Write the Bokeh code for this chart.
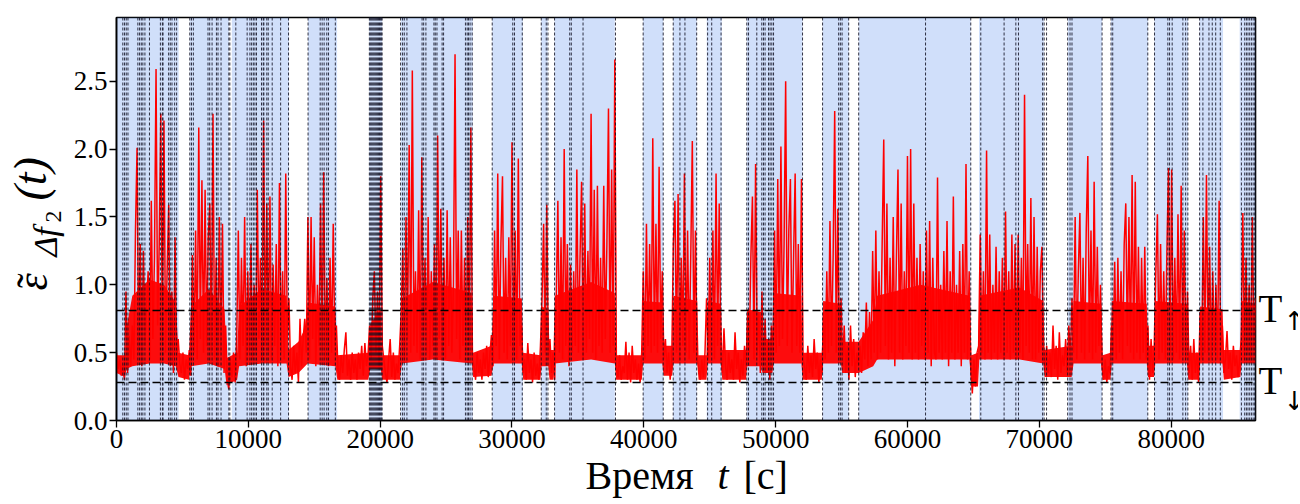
import numpy as np
from bokeh.plotting import figure
from bokeh.layouts import row, column
from bokeh.models import (Range1d, FixedTicker, PrintfTickFormatter, BoxAnnotation,
                          Span, Label, ColumnDataSource)
from bokeh.embed import file_html
from bokeh.resources import INLINE

# ---------------- data ----------------
sample_step = 120  # seconds between samples of the read-off signal
eps = [
    0.50, 0.38, 0.45, 0.33, 0.42, 0.30, 0.95, 0.35, 0.62, 0.40,
    0.70, 0.45, 1.40, 2.01, 0.50, 1.30, 0.40, 1.25, 0.55, 0.85,
    1.10, 0.45, 1.62, 0.60, 1.20, 2.59, 0.70, 1.30, 2.26, 0.55,
    2.21, 0.50, 1.10, 1.59, 0.40, 0.95, 0.35, 1.35, 0.45, 0.60,
    0.42, 0.35, 0.50, 0.30, 0.45, 0.38, 0.52, 0.33, 1.22, 0.50,
    1.40, 0.45, 2.16, 0.60, 1.77, 0.50, 1.70, 0.55, 1.35, 1.60,
    0.50, 2.26, 0.45, 1.20, 0.40, 1.50, 0.50, 1.45, 0.35, 0.70,
    0.30, 0.23, 0.45, 0.32, 0.50, 0.28, 0.60, 1.40, 0.45, 1.20,
    0.55, 1.50, 0.40, 1.10, 0.50, 1.30, 0.45, 1.00, 0.50, 1.70,
    0.60, 1.20, 0.45, 2.21, 0.55, 1.60, 0.50, 1.65, 0.45, 1.15,
    0.55, 1.30, 0.40, 1.75, 0.50, 1.10, 0.45, 1.82, 0.60, 0.90,
    0.40, 0.30, 0.55, 0.35, 0.50, 0.28, 0.75, 0.40, 0.60, 0.75,
    0.50, 1.50, 0.45, 1.50, 0.60, 1.35, 0.40, 1.00, 0.55, 1.60,
    0.50, 1.83, 0.45, 1.05, 0.40, 1.20, 0.50, 1.45, 0.55, 0.70,
    0.38, 0.30, 0.48, 0.35, 0.52, 0.65, 0.33, 0.45, 0.30, 0.50,
    0.35, 0.45, 0.30, 0.50, 0.38, 0.55, 0.33, 0.57, 0.40, 0.48,
    0.70, 0.45, 0.90, 1.10, 0.50, 0.95, 0.40, 1.80, 0.55, 0.45,
    0.35, 0.28, 0.45, 0.60, 0.32, 0.50, 0.30, 0.42, 0.35, 0.55,
    0.80, 1.27, 0.45, 1.50, 0.60, 2.03, 0.50, 2.58, 0.55, 1.10,
    0.50, 1.55, 0.45, 1.94, 0.60, 1.20, 0.50, 1.50, 0.45, 1.10,
    0.55, 1.30, 0.45, 2.10, 0.60, 1.56, 0.50, 1.20, 0.45, 1.55,
    0.55, 1.35, 0.50, 1.00, 2.70, 0.60, 1.40, 0.45, 1.40, 0.55,
    1.20, 0.50, 1.50, 0.55, 2.16, 0.45, 0.40, 0.30, 0.50, 0.35,
    0.45, 0.30, 0.50, 0.38, 0.55, 0.32, 0.48, 0.63, 0.40, 1.40,
    0.55, 1.82, 0.45, 1.30, 1.80, 0.50, 1.20, 0.45, 1.35, 0.55,
    2.05, 0.50, 1.40, 0.45, 1.93, 0.55, 0.70, 0.35, 0.45, 0.30,
    0.57, 0.35, 0.45, 0.28, 0.50, 0.33, 0.42, 0.30, 0.55, 0.90,
    1.45, 0.50, 1.59, 0.45, 0.60, 0.35, 0.50, 0.30, 0.90, 1.62,
    0.50, 1.35, 0.45, 2.00, 0.55, 1.30, 0.40, 1.15, 0.50, 1.10,
    0.55, 1.85, 0.50, 1.20, 1.76, 0.45, 1.60, 0.50, 1.25, 0.60,
    2.26, 0.50, 1.70, 0.45, 1.73, 0.55, 1.20, 0.50, 1.73, 0.60,
    1.30, 2.30, 0.50, 1.85, 0.55, 2.66, 0.40, 0.32, 0.48, 0.30,
    0.40, 0.35, 0.58, 0.30, 0.50, 0.28, 0.55, 0.35, 0.45, 0.30,
    0.42, 0.28, 0.50, 1.10, 0.45, 1.45, 0.55, 1.30, 0.50, 2.08,
    0.55, 1.45, 0.50, 1.87, 0.60, 1.10, 0.45, 0.60, 0.35, 0.50,
    0.30, 0.45, 1.30, 1.62, 0.50, 1.67, 0.45, 1.20, 0.55, 1.82,
    0.50, 1.40, 0.45, 1.20, 2.06, 0.50, 1.40, 0.45, 0.40, 0.30,
    0.45, 0.32, 0.50, 0.90, 0.45, 1.20, 0.50, 1.40, 0.45, 1.82,
    0.55, 1.60, 0.50, 0.35, 0.68, 0.40, 0.30, 0.50, 0.35, 0.45,
    0.30, 0.65, 0.38, 0.50, 0.28, 0.45, 0.33, 0.55, 0.40, 0.80,
    0.50, 1.20, 1.65, 0.45, 1.89, 0.50, 0.80, 0.35, 0.95, 0.40,
    0.75, 0.35, 0.60, 0.30, 0.70, 0.45, 1.40, 0.50, 1.78, 0.55,
    2.02, 0.60, 1.30, 2.50, 0.55, 1.40, 1.78, 0.50, 1.20, 1.82,
    0.55, 1.30, 0.50, 1.78, 0.45, 0.40, 0.30, 0.55, 0.35, 0.48,
    0.32, 0.60, 0.38, 0.50, 0.28, 0.45, 0.35, 0.80, 0.45, 1.10,
    0.50, 1.47, 0.55, 1.20, 2.28, 0.50, 1.56, 0.45, 0.90, 0.40,
    0.70, 0.35, 0.55, 0.30, 0.70, 0.40, 0.60, 0.32, 0.50, 0.40,
    0.55, 0.35, 0.65, 0.45, 0.87, 0.40, 0.80, 0.45, 1.25, 0.50,
    1.40, 0.45, 1.10, 0.50, 1.30, 2.07, 0.55, 1.60, 0.45, 1.20,
    0.50, 1.50, 0.40, 1.20, 1.85, 0.50, 1.60, 0.45, 1.10, 0.55,
    1.95, 0.50, 2.00, 0.45, 1.60, 0.50, 1.20, 0.45, 1.30, 0.55,
    1.10, 0.45, 1.40, 0.50, 1.47, 0.40, 1.20, 0.50, 0.45, 1.79,
    0.50, 1.00, 0.45, 1.25, 0.50, 1.47, 0.40, 1.10, 0.50, 1.65,
    0.45, 1.00, 0.50, 1.25, 0.40, 1.30, 0.50, 1.89, 0.45, 1.10,
    0.40, 0.20, 0.45, 0.25, 0.50, 0.55, 1.37, 0.50, 1.10, 0.45,
    1.99, 0.50, 1.37, 0.45, 1.00, 0.50, 1.28, 0.45, 1.10, 0.50,
    1.20, 0.45, 1.54, 0.50, 1.10, 0.45, 1.37, 0.50, 1.30, 0.45,
    1.37, 0.50, 1.20, 0.45, 2.40, 0.55, 1.30, 0.50, 1.64, 0.45,
    1.50, 0.45, 1.28, 0.50, 1.10, 1.28, 0.45, 0.40, 0.55, 0.35,
    0.50, 0.32, 0.70, 0.38, 0.55, 0.30, 0.65, 0.35, 0.48, 0.40,
    0.60, 0.35, 0.70, 0.45, 0.90, 0.50, 1.50, 0.45, 1.10, 1.53,
    0.50, 1.20, 0.45, 1.40, 1.95, 0.50, 1.40, 0.45, 1.76, 0.50,
    1.28, 0.55, 1.00, 0.40, 0.30, 0.45, 0.28, 0.40, 0.35, 0.70,
    0.50, 1.17, 0.45, 1.20, 0.50, 1.10, 0.45, 1.30, 1.60, 0.55,
    1.50, 0.50, 1.81, 0.45, 1.76, 0.50, 1.28, 0.45, 1.20, 0.50,
    1.28, 0.45, 0.70, 0.30, 0.60, 0.35, 0.55, 1.10, 1.52, 0.45,
    1.30, 0.50, 1.10, 0.45, 1.25, 1.86, 0.50, 1.85, 0.45, 1.20,
    0.50, 1.52, 0.45, 1.73, 0.50, 1.40, 0.45, 0.95, 0.35, 0.55,
    0.30, 0.60, 0.35, 0.50, 0.28, 0.80, 0.45, 1.50, 0.50, 1.81,
    0.50, 1.28, 0.45, 1.10, 0.50, 1.00, 0.45, 1.62, 0.50, 0.70,
    0.35, 0.45, 0.66, 0.38, 0.50, 0.30, 0.55, 0.40, 0.48, 0.32,
    0.45, 0.60, 1.53, 0.45, 1.20, 0.50, 1.00, 0.45, 1.50, 0.55,
    0.90,
]
time_s = np.arange(len(eps)) * sample_step

env_t = [0, 650, 750, 1200, 2500, 3600, 4500, 4700, 5500, 5650, 7000, 8200, 8350, 9150,
         9300, 11000, 12900, 13050, 13800, 14300, 14500, 16600, 16750, 19100, 19250,
         20050, 20150, 21500, 21650, 24000, 26950, 27050, 28450, 28600, 30750, 30850,
         32150, 32250, 32750, 32850, 33150, 33250, 36000, 37800, 37900, 39850, 39950,
         41400, 41500, 42150, 42250, 44050, 44150, 44750, 44850, 45850, 45950, 47750,
         47850, 48900, 49000, 49750, 49850, 51950, 52050, 53500, 53600, 54950, 55050,
         56300, 57400, 57700, 61000, 64700, 64850, 65350, 65450, 68500, 70300, 70400,
         72450, 72600, 74700, 74800, 75400, 75500, 78150, 78250, 78700, 78800, 81200,
         81300, 82100, 82200, 83900, 84000, 85250, 85350, 86400]
env_lo = [0.35, 0.32, 0.38, 0.40, 0.42, 0.42, 0.40, 0.32, 0.30, 0.40, 0.42, 0.38, 0.26,
          0.30, 0.40, 0.42, 0.42, 0.32, 0.35, 0.40, 0.42, 0.40, 0.30, 0.30, 0.38, 0.38,
          0.30, 0.30, 0.42, 0.45, 0.42, 0.32, 0.33, 0.42, 0.42, 0.30, 0.30, 0.40, 0.40,
          0.30, 0.30, 0.42, 0.45, 0.42, 0.30, 0.30, 0.42, 0.42, 0.33, 0.33, 0.42, 0.42,
          0.30, 0.30, 0.42, 0.42, 0.30, 0.30, 0.40, 0.40, 0.35, 0.35, 0.42, 0.42, 0.30,
          0.30, 0.42, 0.42, 0.35, 0.35, 0.40, 0.45, 0.45, 0.45, 0.25, 0.25, 0.45, 0.45,
          0.42, 0.32, 0.32, 0.42, 0.42, 0.30, 0.30, 0.42, 0.42, 0.32, 0.32, 0.42, 0.42,
          0.30, 0.30, 0.42, 0.42, 0.30, 0.32, 0.42, 0.42]
env_hi = [0.48, 0.48, 0.68, 0.92, 1.04, 1.00, 0.87, 0.50, 0.48, 0.84, 0.97, 0.82, 0.46,
          0.50, 0.84, 0.97, 0.92, 0.52, 0.58, 0.68, 0.87, 0.84, 0.48, 0.50, 0.71, 0.82,
          0.48, 0.48, 0.90, 1.02, 0.94, 0.50, 0.55, 0.92, 0.90, 0.50, 0.48, 0.84, 0.82,
          0.52, 0.52, 0.92, 1.02, 0.94, 0.48, 0.48, 0.88, 0.87, 0.55, 0.55, 0.92, 0.88,
          0.48, 0.48, 0.88, 0.86, 0.52, 0.52, 0.82, 0.80, 0.60, 0.60, 0.94, 0.92, 0.50,
          0.50, 0.88, 0.86, 0.58, 0.58, 0.74, 0.92, 1.00, 0.92, 0.48, 0.50, 0.92, 0.98,
          0.88, 0.52, 0.55, 0.88, 0.86, 0.48, 0.50, 0.88, 0.86, 0.55, 0.55, 0.88, 0.86,
          0.50, 0.50, 0.84, 0.82, 0.52, 0.52, 0.88, 0.86]

span_starts = [0, 5552, 8746, 14526, 19165, 21575, 28500, 32222, 33234, 39949, 42231,
               44771, 47812, 53562, 56300, 65426, 72171, 75442, 78734, 82157, 85199]
span_ends = [4715, 8518, 13081, 16731, 20153, 27021, 30823, 32702, 37797, 41470, 44011,
             45912, 52041, 55539, 64795, 70347, 74757, 78233, 81274, 83937, 86400]

switch_times = [
    480, 610, 740, 870, 1620, 1750, 1880, 2000, 2155, 2500, 3330, 3480, 3530, 3955, 4080,
    4210, 4410, 4560, 5560, 5690, 5830, 6940, 7070, 7250, 7580, 7700, 7930, 8520, 8600,
    9050, 9910, 10120, 10250, 10380, 10500, 10620, 11000, 11130, 11180, 11400, 11510,
    11810, 12450, 13050,
    14530, 15450, 15600, 15750, 15950, 16080, 16600,
    19180, 19250, 19320, 19390, 19460, 19530, 19600, 19670, 19740, 19810, 19880, 19950,
    20020, 20090, 20150,
    21550, 21700, 21830, 22030, 23180, 23300, 23470, 24080, 24180, 24310, 24700, 24810,
    26470, 26600, 26700, 26820, 26980, 28500,
    30060, 30190, 30780, 32220, 32600, 32730, 33230, 34380, 34500, 35390, 37850, 39950,
    41470, 42230, 42740, 43120, 44010, 44840, 45150, 45860, 47810, 47940, 48570, 48950,
    49080, 49200, 49460, 49580, 49710, 49840, 52040, 53560, 54780, 54910, 55040, 55540,
    56300, 61370, 64800, 65560, 67330, 68220, 68420, 70250, 70370, 70550, 72150, 72330,
    72480, 74760, 75440, 75570, 78230, 78740, 79750, 79880, 80080, 80890, 81100, 81270,
    82160, 82410, 82870, 83120, 83380, 83730, 85330, 85580, 85710, 85830, 85960, 86090,
    86220, 86340,
]

thr_up = 0.81
thr_down = 0.28

x_ticks = [0, 10000, 20000, 30000, 40000, 50000, 60000, 70000, 80000]
y_ticks = [0.0, 0.5, 1.0, 1.5, 2.0, 2.5]

X_MAX = 86400
Y_MAX = 2.97

# ---------------- geometry ----------------
SERIF = "Liberation Serif"
FRAME_W, FRAME_H = 1139, 403
LEFT_W = 68          # y-label panel
MAIN_L, MAIN_R, MAIN_T, MAIN_B = 48, 2, 17, 40
RIGHT_W = 41         # T-label panel
XLAB_H = 42
MAIN_W = MAIN_L + FRAME_W + MAIN_R
MAIN_H = MAIN_T + FRAME_H + MAIN_B
TOTAL_W = LEFT_W + MAIN_W + RIGHT_W
sx = X_MAX / FRAME_W   # seconds per pixel


def blank(width, height, xr, yr):
    f = figure(width=width, height=height, output_backend="svg", toolbar_location=None,
               x_range=xr, y_range=yr, x_axis_location=None, y_axis_location=None,
               min_border=0)
    f.grid.visible = False
    f.outline_line_color = None
    f.background_fill_color = "white"
    f.border_fill_color = "white"
    return f


# ---------------- main figure ----------------
p = figure(width=MAIN_W, height=MAIN_H, output_backend="svg", toolbar_location=None,
           x_range=Range1d(0, X_MAX), y_range=Range1d(0, Y_MAX),
           min_border_left=MAIN_L, min_border_right=MAIN_R,
           min_border_top=MAIN_T, min_border_bottom=MAIN_B)
p.xgrid.visible = False
p.ygrid.visible = False
p.outline_line_color = "black"
p.outline_line_width = 1.6
p.background_fill_color = "white"
p.border_fill_color = "white"

for ax in (p.xaxis[0], p.yaxis[0]):
    ax.axis_line_width = 1.6
    ax.major_tick_line_width = 1.3
    ax.major_tick_out = 7
    ax.major_tick_in = 0
    ax.minor_tick_out = 0
    ax.minor_tick_in = 0
    ax.major_label_text_font = SERIF
    ax.major_label_text_font_size = "27px"
    ax.major_label_text_color = "black"
    ax.major_label_standoff = 2

p.xaxis.ticker = FixedTicker(ticks=x_ticks)
p.yaxis.ticker = FixedTicker(ticks=y_ticks)
p.xaxis.formatter = PrintfTickFormatter(format="%d")
p.yaxis.formatter = PrintfTickFormatter(format="%.1f")

for s, e in zip(span_starts, span_ends):
    p.add_layout(BoxAnnotation(left=s, right=e, fill_color="cornflowerblue", fill_alpha=0.3,
                               line_color=None, level="underlay"))

p.varea(x=env_t, y1=env_lo, y2=env_hi, fill_color="red", fill_alpha=0.95)
src = ColumnDataSource(dict(t=time_s, v=eps))
p.line("t", "v", source=src, line_color="red", line_width=1.5)

for xs in switch_times:
    p.add_layout(Span(location=xs, dimension="height", line_color="#111122",
                      line_width=1, line_dash="3 2", line_alpha=0.85))

for th in (thr_up, thr_down):
    p.add_layout(Span(location=th, dimension="width", line_color="black",
                      line_width=1.5, line_dash="8 4"))

# ---------------- y-label panel (frame aligned with the main frame) ----------------
yl = blank(LEFT_W, MAIN_H, Range1d(0, LEFT_W), Range1d(0, Y_MAX))
rot = dict(angle=np.pi / 2, text_baseline="alphabetic", text_color="black", text_font=SERIF)
yl.add_layout(Label(x=32, y=0.958, text="ε", text_font_size="44px", text_font_style="italic",
                    text_align="left", **rot))
yl.add_layout(Label(x=32, y=1.03, text="˜", text_font_size="44px", text_align="center", **rot))
yl.add_layout(Label(x=45, y=1.208, text="Δf", text_font_size="34px", text_font_style="italic",
                    text_align="left", **rot))
yl.add_layout(Label(x=53, y=1.459, text="2", text_font_size="24px", text_align="left", **rot))
yl.add_layout(Label(x=30, y=1.621, text="(t)", text_font_size="46px", text_font_style="italic",
                    text_align="left", **rot))

# ---------------- T-label panel ----------------
tl = blank(RIGHT_W, MAIN_H, Range1d(0, RIGHT_W), Range1d(0, Y_MAX))
for th, arrow, dy in ((thr_up, "↑", -10), (thr_down, "↓", -18)):
    tl.add_layout(Label(x=1, y=th, y_offset=2, text="T", text_font=SERIF,
                        text_font_size="39px", text_baseline="middle", text_align="left",
                        text_color="black"))
    tl.add_layout(Label(x=26, y=th, y_offset=dy, text=arrow, text_font="DejaVu Sans",
                        text_font_size="26px", text_baseline="middle", text_align="left",
                        text_color="black"))

# ---------------- x-label panel (full width) ----------------
x_left_s = -(LEFT_W + MAIN_L) * sx
x_right_s = X_MAX + (MAIN_R + RIGHT_W) * sx
xl = blank(TOTAL_W, XLAB_H, Range1d(x_left_s, x_right_s), Range1d(0, XLAB_H))
for txt, xpos, style in (("Время", 35577, "normal"), ("t", 45590, "italic"),
                         ("[с]", 47563, "normal")):
    xl.add_layout(Label(x=xpos, y=27, text=txt, text_font=SERIF, text_font_size="40px",
                        text_font_style=style, text_baseline="alphabetic",
                        text_align="left", text_color="black"))

layout = column(row(yl, p, tl), xl)
open("out.html", "w").write(file_html(layout, INLINE))
